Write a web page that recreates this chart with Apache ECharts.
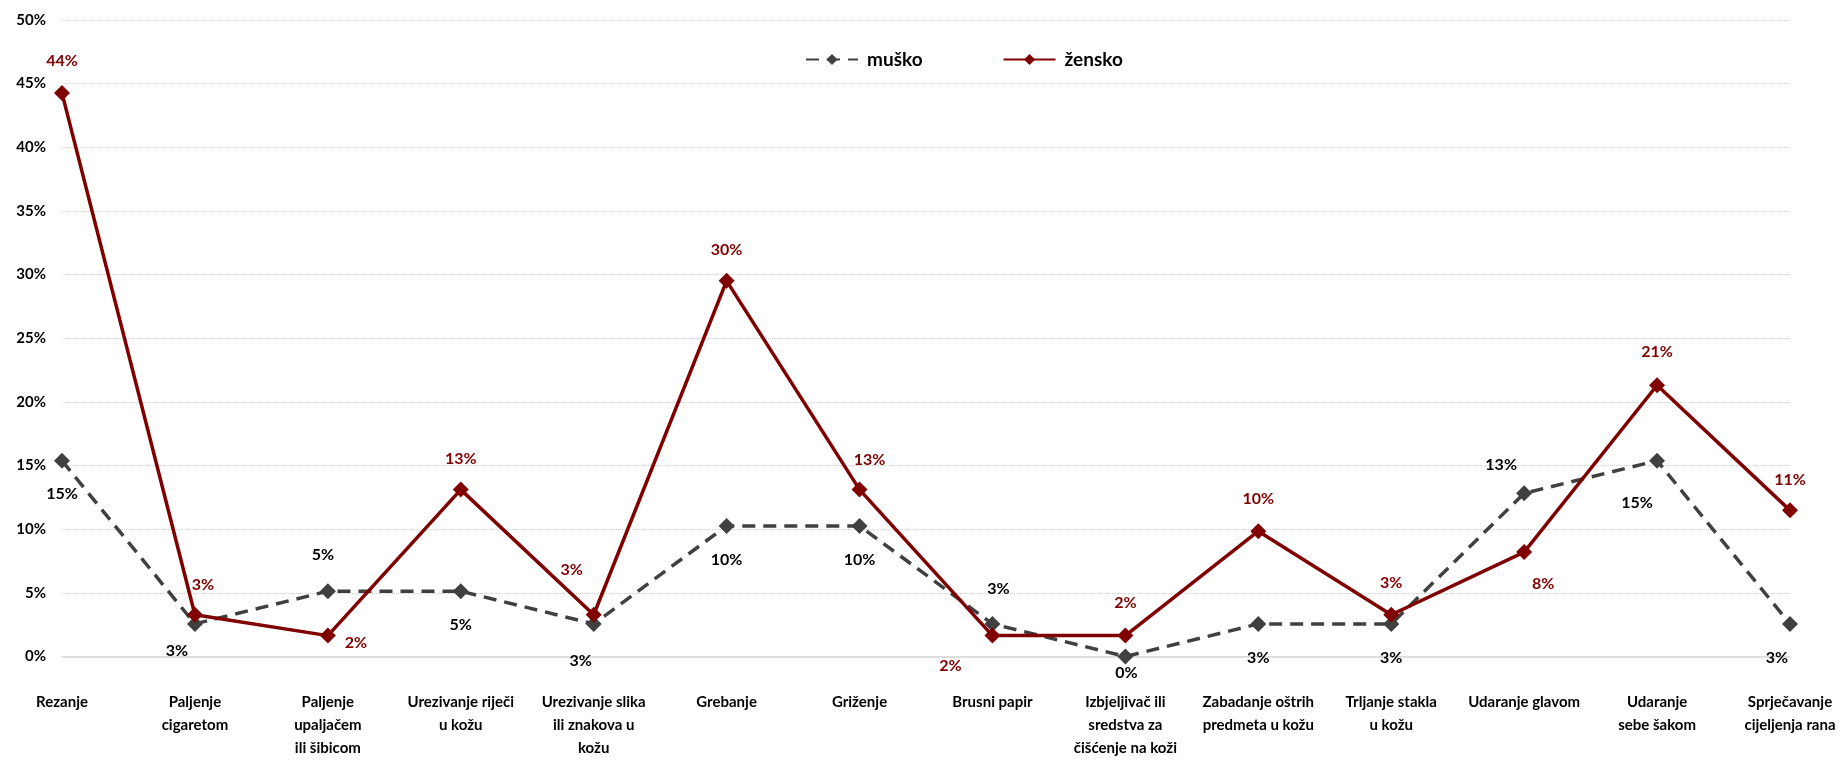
<!DOCTYPE html>
<html>
<head>
<meta charset="utf-8">
<script src="https://cdn.jsdelivr.net/npm/echarts@6/dist/echarts.min.js"></script>
<style>
html,body{margin:0;padding:0;background:#fff;}
#chart{width:1845px;height:760px;}
</style>
</head>
<body>
<div id="chart"></div>
<script>
const categories = [
  "Rezanje",
  "Paljenje\ncigaretom",
  "Paljenje\nupaljačem\nili šibicom",
  "Urezivanje riječi\nu kožu",
  "Urezivanje slika\nili znakova u\nkožu",
  "Grebanje",
  "Griženje",
  "Brusni papir",
  "Izbjeljivač ili\nsredstva za\nčišćenje na koži",
  "Zabadanje oštrih\npredmeta u kožu",
  "Trljanje stakla\nu kožu",
  "Udaranje glavom",
  "Udaranje\nsebe šakom",
  "Sprječavanje\ncijeljenja rana"
];
const seriesNames = ["muško", "žensko"];
const musko = [15.38, 2.56, 5.13, 5.13, 2.56, 10.26, 10.26, 2.56, 0, 2.56, 2.56, 12.82, 15.38, 2.56];
const zensko = [44.26, 3.28, 1.64, 13.11, 3.28, 29.51, 13.11, 1.64, 1.64, 9.84, 3.28, 8.20, 21.31, 11.48];
const yTicks = [0, 50, 5];

// label offsets relative to markers (layout only)
const muskoLabelOffsets = [[0,33],[-18,27],[-5,-36],[0,34],[-13,37],[0,34],[0,34],[6,-35],[1,16],[0,34],[0,34],[-23,-28],[-20,42],[-13,34]];
const zenskoLabelOffsets = [[0,-32],[8,-30],[28,7],[0,-31],[-22,-45],[0,-31],[10,-30],[-42,30],[0,-33],[0,-32],[0,-32],[19,32],[0,-33],[0,-31]];

const FONT = 'Lato';
const RED = '#800000';
const GREY = '#404040';

function buildData(vals, offs, color) {
  return vals.map((v, i) => ({
    value: v,
    label: {
      show: true,
      position: 'inside',
      offset: offs[i],
      formatter: Math.round(v) + '%',
      color: color,
      fontFamily: FONT,
      fontWeight: 'bold',
      fontSize: 16
    }
  }));
}

const chart = echarts.init(document.getElementById('chart'));
chart.setOption({
  animation: false,
  backgroundColor: '#fff',
  textStyle: { fontFamily: FONT },
  grid: { left: 62, right: 55, top: 20, bottom: 103.5, containLabel: false },
  legend: {
    top: 45,
    left: 800,
    itemGap: 80,
    itemWidth: 52,
    itemHeight: 14,
    textStyle: { fontFamily: FONT, fontWeight: 'bold', fontSize: 19, color: '#000', padding: [0, 0, 0, 4] },
    data: seriesNames
  },
  xAxis: {
    type: 'category',
    data: categories,
    boundaryGap: false,
    axisLine: { lineStyle: { color: '#d9d9d9', width: 1.5 } },
    axisTick: { show: false },
    axisLabel: {
      interval: 0,
      hideOverlap: false,
      margin: 34,
      color: '#000',
      fontFamily: FONT,
      fontWeight: 'bold',
      fontSize: 15,
      lineHeight: 23
    }
  },
  yAxis: {
    type: 'value',
    min: yTicks[0],
    max: yTicks[1],
    interval: yTicks[2],
    axisLine: { show: false },
    axisTick: { show: false },
    splitLine: { lineStyle: { color: '#cfcfcf', type: 'dotted', width: 1 } },
    axisLabel: {
      formatter: '{value}%',
      margin: 16,
      color: '#000',
      fontFamily: FONT,
      fontWeight: 'bold',
      fontSize: 15
    }
  },
  series: [
    {
      name: seriesNames[0],
      type: 'line',
      data: buildData(musko, muskoLabelOffsets, '#000'),
      symbol: 'diamond',
      symbolSize: 16,
      itemStyle: { color: GREY },
      lineStyle: { color: GREY, width: 3.5, type: [13, 8] },
      z: 2
    },
    {
      name: seriesNames[1],
      type: 'line',
      data: buildData(zensko, zenskoLabelOffsets, RED),
      symbol: 'diamond',
      symbolSize: 16,
      itemStyle: { color: RED },
      lineStyle: { color: RED, width: 3.5 },
      z: 3
    }
  ]
});
</script>
</body>
</html>
